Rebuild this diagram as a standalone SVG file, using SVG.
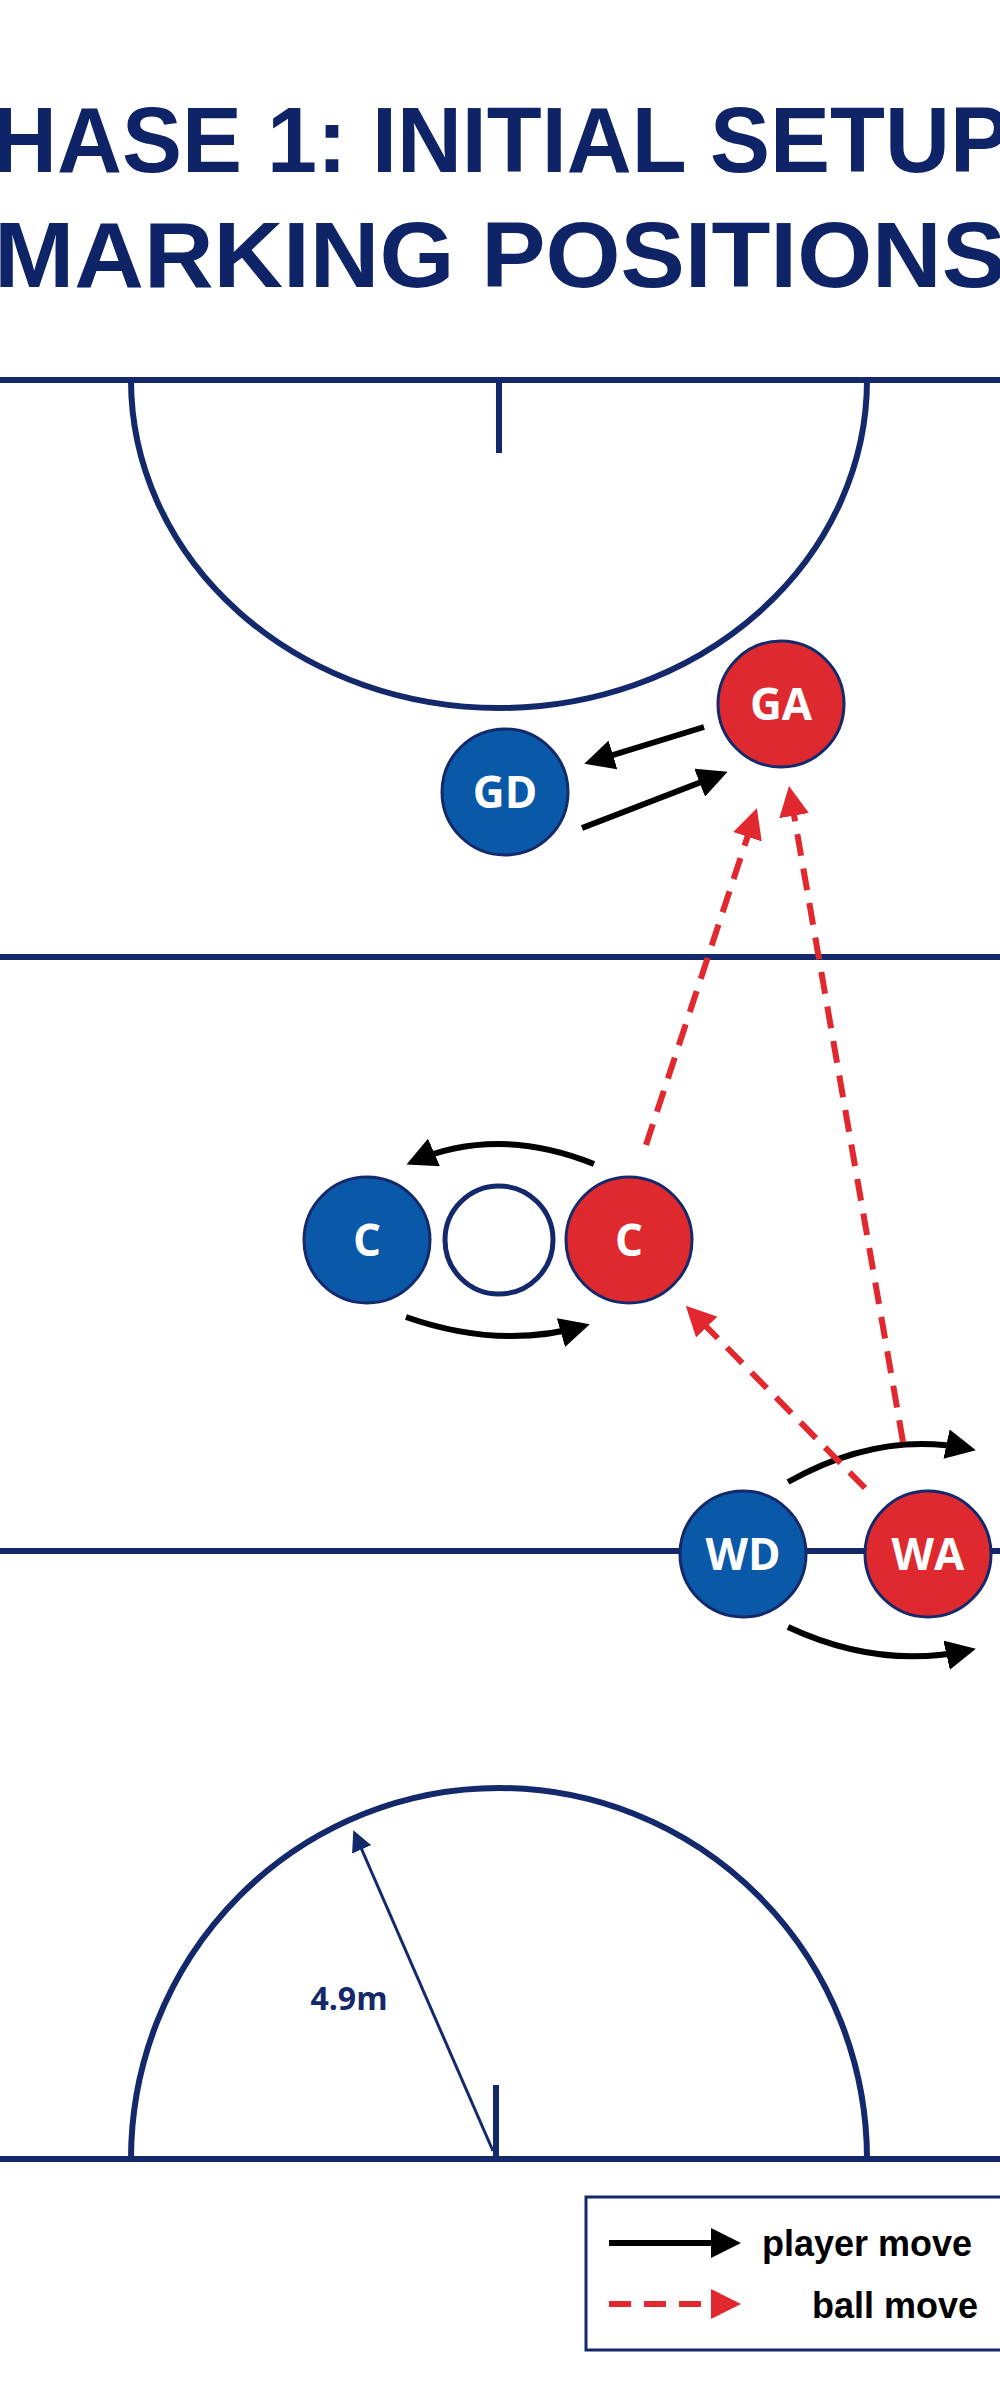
<svg xmlns="http://www.w3.org/2000/svg" width="1000" height="2400" viewBox="0 0 1000 2400">
<style>
.court{fill:none;stroke:#14296b;stroke-width:6}
.title{font-family:"Liberation Sans",Arial,sans-serif;font-weight:bold;fill:#0f2466;font-size:92px}
.lbl{font-family:"Open Sans","Liberation Sans",sans-serif;font-weight:bold;fill:#fff;font-size:44px;text-anchor:middle}
.red{fill:#de2a2f;stroke:#14296b;stroke-width:3}
.blue{fill:#0a58a8;stroke:#14296b;stroke-width:3}
.mv{fill:none;stroke:#000;stroke-width:6;marker-end:url(#ab)}
.ball{fill:none;stroke:#e0282e;stroke-width:6;stroke-dasharray:22 13;marker-end:url(#ar)}
.leg{font-family:"Liberation Sans",Arial,sans-serif;font-weight:bold;font-size:36px;fill:#000}
</style>
<defs>
<marker id="ab" viewBox="0 0 10 10" refX="8" refY="5" markerWidth="5" markerHeight="5" orient="auto" markerUnits="strokeWidth"><path d="M0,0 L10,5 L0,10 z" fill="#000"/></marker>
<marker id="ar" viewBox="0 0 10 10" refX="8" refY="5" markerWidth="5" markerHeight="5" orient="auto" markerUnits="strokeWidth"><path d="M0,0 L10,5 L0,10 z" fill="#e0282e"/></marker>
<marker id="an" viewBox="0 0 10 10" refX="8" refY="5" markerWidth="7" markerHeight="7" orient="auto" markerUnits="strokeWidth"><path d="M0,0 L10,5 L0,10 z" fill="#14296b"/></marker>
</defs>
<rect width="1000" height="2400" fill="#fff"/>
<text class="title" x="-8" y="172" textLength="1018" lengthAdjust="spacingAndGlyphs">HASE 1: INITIAL SETUP</text>
<text class="title" x="-6" y="287" textLength="1012" lengthAdjust="spacingAndGlyphs">MARKING POSITIONS</text>
<g id="court">
<line class="court" x1="0" y1="380" x2="1000" y2="380"/>
<path class="court" d="M131,380 A368,328 0 0 0 867,380"/>
<line class="court" x1="499" y1="380" x2="499" y2="453"/>
<line class="court" x1="0" y1="957" x2="1000" y2="957"/>
<line class="court" x1="0" y1="1551" x2="1000" y2="1551"/>
<line class="court" x1="0" y1="2159" x2="1000" y2="2159"/>
<path class="court" d="M131,2159 A368,371 0 0 1 867,2159"/>
<line class="court" x1="496" y1="2085" x2="496" y2="2159"/>
<line x1="493" y1="2151" x2="355" y2="1834" stroke="#14296b" stroke-width="3" marker-end="url(#an)"/>
<text x="349" y="2010" font-family="Open Sans,Liberation Sans,sans-serif" font-weight="bold" font-size="32" fill="#14296b" text-anchor="middle">4.9m</text>
</g>
<g id="connectors">
<line class="mv" x1="704" y1="727" x2="590" y2="762"/>
<line class="mv" x1="582" y1="828" x2="722" y2="774"/>
<path class="mv" d="M594,1164 Q497,1125 412,1162"/>
<path class="mv" d="M406,1317 Q500,1350 584,1326"/>
<path class="mv" d="M788,1482 Q880,1430 970,1449"/>
<path class="mv" d="M788,1627 Q880,1670 970,1650"/>
<line class="ball" x1="646" y1="1145" x2="755" y2="814"/>
<line class="ball" x1="903" y1="1442" x2="790" y2="792"/>
<line class="ball" x1="865" y1="1488" x2="690" y2="1310"/>
</g>
<g id="GA"><circle class="red" cx="781" cy="704" r="63"/><text class="lbl" x="781" y="720">GA</text></g>
<g id="GD"><circle class="blue" cx="505" cy="792" r="63"/><text class="lbl" x="505" y="808">GD</text></g>
<g id="C-blue"><circle class="blue" cx="367" cy="1240" r="63"/><text class="lbl" x="367" y="1256">C</text></g>
<g id="empty"><circle cx="499" cy="1240" r="54" fill="#fff" stroke="#14296b" stroke-width="5"/></g>
<g id="C-red"><circle class="red" cx="629" cy="1240" r="63"/><text class="lbl" x="629" y="1256">C</text></g>
<g id="WD"><circle class="blue" cx="743" cy="1554" r="63"/><text class="lbl" x="743" y="1570">WD</text></g>
<g id="WA"><circle class="red" cx="928" cy="1554" r="63"/><text class="lbl" x="928" y="1570">WA</text></g>
<g id="legend">
<rect x="586" y="2197" width="430" height="153" fill="#fff" stroke="#14296b" stroke-width="3"/>
<line class="mv" x1="609" y1="2243" x2="735" y2="2243"/>
<line class="ball" x1="609" y1="2304" x2="735" y2="2304"/>
<text class="leg" x="762" y="2256">player move</text>
<text class="leg" x="812" y="2318">ball move</text>
</g>
</svg>
